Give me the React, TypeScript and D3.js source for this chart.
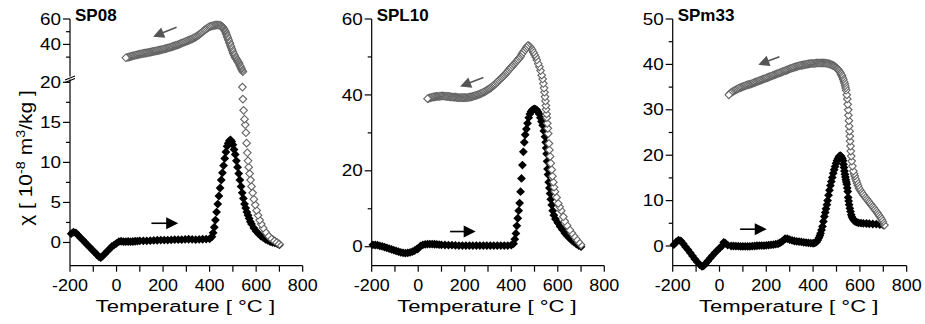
import React from 'react';
import * as d3 from 'd3';

type Pt = [number, number];

// ---------- DATA ----------
const xMajorTicks = [-200, 0, 200, 400, 600, 800];
const xMinorTicks = [-100, 100, 300, 500, 700];
const panelTitles = ['SP08', 'SPL10', 'SPm33'];

// SP08 heating (black filled)
const sp08Heat: Pt[] = [
  [-195, 1.1], [-185, 1.3], [-175, 1.2], [-165, 0.9], [-155, 0.6], [-145, 0.3], [-135, 0.0], [-125, -0.3],
  [-115, -0.6], [-105, -0.9], [-95, -1.2], [-85, -1.5], [-75, -1.8], [-68, -1.9], [-60, -1.7], [-50, -1.4],
  [-40, -1.1], [-30, -0.8], [-20, -0.5], [-10, -0.3], [0, -0.1], [10, 0.1], [20, 0.15], [30, 0.1], [40, 0.1],
  [50, 0.12], [60, 0.1], [70, 0.12], [80, 0.15], [90, 0.18], [100, 0.2], [115, 0.2], [130, 0.2], [145, 0.22],
  [160, 0.25], [175, 0.28], [190, 0.3], [205, 0.3], [220, 0.3], [235, 0.32], [250, 0.35], [265, 0.35],
  [280, 0.35], [295, 0.38], [310, 0.4], [325, 0.38], [340, 0.35], [355, 0.38], [370, 0.4], [385, 0.42],
  [400, 0.45], [410, 0.7], [415, 1.2], [420, 1.9], [425, 2.8], [430, 3.8], [435, 4.8], [440, 5.8], [445, 6.8],
  [450, 7.8], [455, 8.7], [460, 9.6], [465, 10.5], [470, 11.3], [475, 12.0], [480, 12.4], [485, 12.7],
  [490, 12.8], [495, 12.6], [500, 12.2], [505, 11.6], [510, 11.0], [515, 10.2], [520, 9.4], [525, 8.6],
  [530, 7.8], [535, 7.0], [540, 6.2], [545, 5.5], [550, 4.8], [555, 4.3], [560, 3.8], [565, 3.4], [570, 3.0],
  [575, 2.6], [580, 2.3], [590, 1.8], [600, 1.4], [610, 1.1], [620, 0.8], [630, 0.6], [640, 0.4], [650, 0.25],
  [660, 0.1], [670, 0.0], [680, -0.05], [690, -0.15], [700, -0.3],
];
// SP08 cooling (open grey), part plotted on the upper axis segment
const sp08CoolUpper: Pt[] = [
  [543, 18.5], [540, 19.5], [537, 20.7], [535, 21.5], [532, 22.7], [530, 23.5], [527, 24.7], [525, 25.5],
  [522, 26.4], [520, 27.0], [517, 27.9], [515, 28.5], [512, 29.4], [510, 30.0], [507, 31.0], [505, 31.8],
  [502, 33.0], [500, 34.0], [497, 35.5], [495, 36.5], [492, 38.0], [490, 39.0], [487, 40.5], [485, 41.5],
  [482, 43.0], [480, 44.0], [477, 45.5], [475, 46.5], [472, 48.0], [470, 49.0], [467, 50.2], [465, 51.0],
  [462, 51.9], [460, 52.5], [457, 53.3], [455, 53.8], [452, 54.3], [450, 54.6], [445, 55.0], [440, 55.2],
  [435, 55.3], [430, 55.3], [425, 55.2], [420, 55.0], [415, 54.8], [410, 54.5], [405, 54.2], [400, 54.0],
  [395, 53.4], [390, 52.8], [385, 52.1], [380, 51.5], [375, 50.8], [370, 50.0], [365, 49.2], [360, 48.5],
  [355, 47.7], [350, 47.0], [345, 46.4], [340, 45.8], [335, 45.3], [330, 44.9], [325, 44.4], [320, 44.0],
  [315, 43.6], [310, 43.2], [305, 42.8], [300, 42.5], [295, 42.1], [290, 41.7], [285, 41.3], [280, 41.0],
  [275, 40.6], [270, 40.2], [265, 39.8], [260, 39.5], [255, 39.2], [250, 38.9], [245, 38.6], [240, 38.3],
  [235, 38.0], [230, 37.7], [225, 37.4], [220, 37.2], [215, 36.9], [210, 36.7], [205, 36.4], [200, 36.2],
  [195, 35.9], [190, 35.7], [185, 35.5], [180, 35.3], [175, 35.1], [170, 34.9], [165, 34.7], [160, 34.5],
  [155, 34.3], [150, 34.1], [145, 33.9], [140, 33.8], [135, 33.6], [130, 33.4], [125, 33.2], [120, 33.1],
  [115, 32.9], [110, 32.7], [105, 32.5], [100, 32.4], [95, 32.1], [90, 31.9], [85, 31.7], [80, 31.5],
  [75, 31.2], [70, 31.0], [65, 30.7], [60, 30.5], [55, 30.2], [50, 30.0], [45, 29.7], [40, 29.5],
];
// SP08 cooling, part plotted on the lower axis segment
const sp08CoolLower: Pt[] = [
  [700, -0.2], [690, 0.0], [680, 0.2], [670, 0.4], [660, 0.6], [650, 0.9], [640, 1.3], [630, 1.8], [622, 2.3],
  [615, 2.8], [608, 3.4], [602, 4.0], [596, 4.7], [590, 5.4], [585, 6.2], [580, 7.0], [576, 7.8], [572, 8.6],
  [568, 9.4], [565, 10.2], [562, 11.2], [559, 12.4], [556, 13.7], [553, 14.7], [550, 15.4], [546, 16.5],
  [543, 17.9], [541, 19.4],
];

// SPL10 heating
const spl10Heat: Pt[] = [
  [-195, 0.5], [-185, 0.45], [-175, 0.4], [-165, 0.2], [-155, 0.1], [-145, -0.1], [-135, -0.3], [-125, -0.5],
  [-115, -0.7], [-105, -0.9], [-95, -1.1], [-85, -1.3], [-75, -1.5], [-65, -1.6], [-55, -1.7], [-45, -1.6],
  [-35, -1.5], [-25, -1.3], [-15, -1.0], [-5, -0.6], [0, -0.5], [10, 0.2], [20, 0.5], [30, 0.6], [40, 0.7],
  [50, 0.7], [60, 0.7], [70, 0.65], [80, 0.6], [90, 0.55], [100, 0.5], [115, 0.45], [130, 0.4], [145, 0.4],
  [160, 0.35], [175, 0.3], [190, 0.3], [205, 0.3], [220, 0.3], [235, 0.3], [250, 0.3], [265, 0.3], [280, 0.3],
  [295, 0.3], [310, 0.3], [325, 0.3], [340, 0.3], [355, 0.3], [370, 0.3], [385, 0.3], [400, 0.4], [410, 0.8],
  [415, 2.0], [420, 3.5], [424, 5.5], [428, 7.5], [432, 9.5], [436, 11.5], [440, 14.5], [444, 18.0],
  [448, 21.5], [452, 25.0], [456, 27.5], [460, 29.5], [465, 31.0], [470, 32.5], [475, 34.0], [480, 35.0],
  [485, 35.6], [490, 36.0], [495, 36.2], [500, 36.3], [505, 36.2], [510, 36.0], [515, 35.5], [520, 35.0],
  [525, 34.0], [530, 33.0], [535, 32.0], [540, 30.5], [545, 29.0], [548, 27.5], [550, 26.0], [552, 24.5],
  [554, 22.5], [556, 20.5], [558, 19.0], [561, 17.0], [564, 15.5], [567, 14.0], [570, 12.5], [574, 11.0],
  [578, 9.5], [583, 8.3], [590, 7.3], [600, 6.3], [610, 5.3], [620, 4.5], [630, 3.6], [640, 2.9], [650, 2.3],
  [660, 1.7], [670, 1.2], [680, 0.7], [690, 0.3], [700, 0.0],
];
// SPL10 cooling
const spl10Cool: Pt[] = [
  [700, 0.5], [690, 1.2], [680, 2.0], [670, 2.8], [660, 3.6], [652, 4.4], [640, 5.6], [630, 6.7], [624, 7.9],
  [615, 9.5], [608, 10.5], [602, 11.4], [595, 13.0], [588, 14.5], [584, 15.7], [581, 17.0], [577, 18.6],
  [574, 20.3], [570, 22.0], [567, 23.8], [564, 25.5], [562, 27.2], [559, 29.8], [557, 31.2], [555, 32.5],
  [553, 34.0], [552, 35.0], [550, 36.2], [549, 37.2], [547, 38.4], [545, 39.5], [543, 40.7], [541, 41.8],
  [538, 43.0], [535, 44.2], [531, 45.2], [526, 46.4], [521, 47.4], [516, 48.2], [510, 49.2], [505, 50.0],
  [500, 50.6], [495, 51.2], [490, 51.8], [485, 52.3], [480, 52.7], [475, 53.0], [470, 52.9], [465, 52.5],
  [460, 52.0], [455, 51.6], [450, 51.2], [445, 50.7], [440, 50.1], [435, 49.7], [430, 49.4], [425, 49.0],
  [420, 48.7], [415, 48.3], [410, 48.0], [405, 47.6], [400, 47.3], [395, 47.0], [390, 46.6], [385, 46.2],
  [380, 45.9], [375, 45.5], [370, 45.2], [365, 44.9], [360, 44.6], [355, 44.3], [350, 44.0], [345, 43.7],
  [340, 43.4], [335, 43.1], [330, 42.8], [325, 42.5], [320, 42.3], [315, 42.0], [310, 41.8], [305, 41.6],
  [300, 41.4], [295, 41.2], [290, 41.0], [285, 40.8], [280, 40.7], [275, 40.5], [270, 40.4], [265, 40.2],
  [260, 40.1], [255, 40.0], [250, 39.9], [245, 39.8], [240, 39.7], [235, 39.6], [230, 39.5], [225, 39.45],
  [220, 39.4], [215, 39.35], [210, 39.3], [205, 39.3], [200, 39.3], [195, 39.3], [190, 39.3], [185, 39.3],
  [180, 39.3], [175, 39.3], [170, 39.3], [165, 39.35], [160, 39.4], [155, 39.4], [150, 39.4], [145, 39.45],
  [140, 39.5], [135, 39.55], [130, 39.6], [125, 39.6], [120, 39.6], [115, 39.65], [110, 39.7], [105, 39.7],
  [100, 39.7], [95, 39.65], [90, 39.6], [85, 39.6], [80, 39.6], [75, 39.55], [70, 39.5], [65, 39.45],
  [60, 39.4], [55, 39.3], [50, 39.2], [45, 39.1], [40, 39.0],
];

// SPm33 heating
const spm33Heat: Pt[] = [
  [-195, 0.3], [-185, 0.9], [-175, 1.3], [-165, 1.1], [-155, 0.5], [-145, -0.2], [-135, -0.8], [-125, -1.5],
  [-115, -2.2], [-105, -2.9], [-95, -3.5], [-85, -4.1], [-75, -4.5], [-68, -4.4], [-60, -3.9], [-50, -3.3],
  [-40, -2.7], [-30, -2.1], [-20, -1.5], [-10, -1.0], [0, -0.5], [10, 0.0], [18, 0.8], [25, 0.6], [35, 0.2],
  [50, 0.0], [60, 0.0], [70, -0.05], [80, -0.05], [90, -0.1], [100, -0.1], [110, -0.1], [120, -0.1],
  [130, -0.1], [140, -0.05], [150, 0.0], [160, 0.05], [170, 0.1], [180, 0.1], [190, 0.1], [200, 0.15],
  [210, 0.2], [220, 0.25], [230, 0.3], [240, 0.4], [250, 0.5], [258, 0.7], [265, 0.9], [272, 1.2], [280, 1.6],
  [290, 1.6], [300, 1.4], [310, 1.25], [320, 1.1], [330, 1.0], [340, 0.95], [350, 0.9], [360, 0.8],
  [370, 0.75], [380, 0.7], [390, 0.65], [400, 0.6], [408, 0.7], [415, 0.9], [420, 1.3], [425, 1.8], [429, 2.3],
  [432, 2.8], [436, 3.5], [440, 4.3], [444, 5.4], [448, 6.5], [452, 7.4], [455, 8.2], [459, 9.1], [462, 10.0],
  [466, 11.2], [470, 12.3], [474, 13.3], [478, 14.2], [482, 15.1], [486, 16.0], [490, 16.8], [494, 17.5],
  [498, 18.2], [502, 18.8], [506, 19.2], [510, 19.6], [513, 19.8], [516, 19.9], [519, 19.8], [522, 19.5],
  [525, 19.2], [528, 18.8], [530, 18.0], [532, 17.3], [534, 16.5], [536, 15.8], [538, 15.2], [540, 14.6],
  [542, 14.1], [544, 13.6], [546, 12.8], [548, 12.0], [550, 10.7], [552, 9.9], [554, 9.1], [557, 8.3],
  [560, 7.6], [563, 6.9], [566, 6.4], [570, 6.0], [575, 5.6], [580, 5.4], [588, 5.2], [595, 5.1], [605, 5.05],
  [615, 5.0], [628, 4.95], [640, 4.9], [655, 4.85], [670, 4.8], [685, 4.7], [700, 4.6],
];
// SPm33 cooling
const spm33Cool: Pt[] = [
  [705, 4.6], [698, 5.3], [694, 5.7], [690, 6.1], [685, 6.5], [680, 6.9], [675, 7.25], [670, 7.6], [665, 7.95],
  [660, 8.3], [655, 8.65], [650, 9.0], [645, 9.3], [640, 9.6], [635, 9.95], [630, 10.3], [625, 10.6],
  [620, 10.9], [615, 11.25], [610, 11.6], [605, 12.0], [600, 12.4], [596, 12.8], [592, 13.3], [588, 13.8],
  [585, 14.3], [581, 14.8], [578, 15.4], [575, 15.9], [572, 16.5], [568, 17.6], [565, 18.7], [563, 19.8],
  [561, 20.9], [560, 22.0], [558, 23.1], [557, 24.2], [556, 25.3], [554, 26.4], [553, 27.6], [551, 28.8],
  [550, 30.0], [548, 31.2], [546, 32.4], [544, 33.3], [541, 34.3], [539, 34.8], [537, 35.3], [535, 35.8],
  [532, 36.2], [529, 36.7], [526, 37.1], [523, 37.5], [520, 37.8], [516, 38.2], [512, 38.5], [508, 38.8],
  [504, 39.0], [500, 39.2], [496, 39.4], [492, 39.55], [488, 39.7], [484, 39.8], [480, 39.9], [475, 40.0],
  [470, 40.1], [465, 40.15], [460, 40.2], [455, 40.25], [450, 40.3], [445, 40.3], [440, 40.3], [435, 40.3],
  [430, 40.3], [425, 40.3], [420, 40.3], [415, 40.3], [410, 40.25], [405, 40.2], [400, 40.2], [395, 40.2],
  [390, 40.2], [385, 40.15], [380, 40.1], [375, 40.05], [370, 40.0], [365, 39.95], [360, 39.9], [355, 39.85],
  [350, 39.8], [345, 39.75], [340, 39.7], [335, 39.6], [330, 39.5], [325, 39.45], [320, 39.4], [315, 39.3],
  [310, 39.2], [305, 39.1], [300, 39.0], [295, 38.9], [290, 38.8], [285, 38.7], [280, 38.6], [275, 38.5],
  [270, 38.4], [265, 38.3], [260, 38.2], [255, 38.1], [250, 38.0], [245, 37.9], [240, 37.8], [235, 37.7],
  [230, 37.6], [225, 37.5], [220, 37.4], [215, 37.3], [210, 37.2], [205, 37.1], [200, 37.0], [195, 36.9],
  [190, 36.8], [185, 36.7], [180, 36.6], [175, 36.5], [170, 36.4], [165, 36.3], [160, 36.2], [155, 36.1],
  [150, 36.0], [145, 35.9], [140, 35.8], [135, 35.7], [130, 35.6], [125, 35.55], [120, 35.5], [115, 35.4],
  [110, 35.3], [105, 35.2], [100, 35.1], [95, 35.0], [90, 34.9], [85, 34.8], [80, 34.7], [75, 34.55],
  [70, 34.4], [65, 34.25], [60, 34.1], [55, 33.95], [50, 33.8], [45, 33.6], [40, 33.3],
];

// arrows (data coordinates): [T0, v0, T1, v1]  head at T1,v1
const arrowsGrey: [number, number, number, number][] = [
  [258, 53.5, 157, 46.1],
  [280, 44.6, 180, 42.2],
  [256, 41.7, 166, 39.9],
];
const arrowsBlack: [number, number, number, number][] = [
  [150, 2.4, 265, 2.4],
  [137, 4.0, 247, 4.0],
  [88, 3.7, 202, 3.7],
];

// ---------- LAYOUT ----------
const FONT = '"Liberation Sans", Arial, Helvetica, sans-serif';
const GREY_STROKE = '#636363';
const AXIS_BOTTOM = 265.7;

type Segment = {
  domain: [number, number];
  range: [number, number];
  majors: number[];
  minors: number[];
};

type Series = { data: Pt[]; seg: number; kind: 'heat' | 'cool' };

type PanelSpec = {
  xRange: [number, number];
  segments: Segment[];
  series: Series[];
  arrowSeg: number;
  topY: number;
  breakY?: number;
};

const panels: PanelSpec[] = [
  {
    xRange: [70, 302.7],
    segments: [
      { domain: [-2.9, 20], range: [AXIS_BOTTOM, 82.3], majors: [0, 5, 10, 15, 20], minors: [2.5, 7.5, 12.5, 17.5] },
      { domain: [15, 60], range: [76.2, 19], majors: [40, 60], minors: [30, 50] },
    ],
    series: [
      { data: sp08Heat, seg: 0, kind: 'heat' },
      { data: sp08CoolLower, seg: 0, kind: 'cool' },
      { data: sp08CoolUpper, seg: 1, kind: 'cool' },
    ],
    arrowSeg: 1,
    topY: 19,
    breakY: 78.5,
  },
  {
    xRange: [371.7, 604.3],
    segments: [
      { domain: [-5, 60], range: [AXIS_BOTTOM, 19], majors: [0, 20, 40, 60], minors: [10, 30, 50] },
    ],
    series: [
      { data: spl10Heat, seg: 0, kind: 'heat' },
      { data: spl10Cool, seg: 0, kind: 'cool' },
    ],
    arrowSeg: 0,
    topY: 19,
  },
  {
    xRange: [672.7, 906.7],
    segments: [
      { domain: [-4.34, 50], range: [AXIS_BOTTOM, 19], majors: [0, 10, 20, 30, 40, 50], minors: [5, 15, 25, 35, 45] },
    ],
    series: [
      { data: spm33Heat, seg: 0, kind: 'heat' },
      { data: spm33Cool, seg: 0, kind: 'cool' },
    ],
    arrowSeg: 0,
    topY: 19,
  },
];

const diamondPath = (r: number) => `M0,${-r}L${r},0L0,${r}L${-r},0Z`;

function Arrow({ x0, y0, x1, y1, color, head, half, sw }: any) {
  const ang = Math.atan2(y1 - y0, x1 - x0);
  const bx = x1 - head * Math.cos(ang);
  const by = y1 - head * Math.sin(ang);
  const px = -Math.sin(ang) * half;
  const py = Math.cos(ang) * half;
  return (
    <g>
      <line x1={x0} y1={y0} x2={bx + Math.cos(ang) * 2} y2={by + Math.sin(ang) * 2} stroke={color} strokeWidth={sw} />
      <path d={`M${x1},${y1}L${bx + px},${by + py}L${bx - px},${by - py}Z`} fill={color} />
    </g>
  );
}

function Panel({ spec, idx }: { spec: PanelSpec; idx: number }) {
  const x = d3.scaleLinear().domain([-200, 800]).range(spec.xRange);
  const ys = spec.segments.map((s) => d3.scaleLinear().domain(s.domain).range(s.range));
  const axisX = spec.xRange[0];
  const heatD = diamondPath(4.4);
  const coolD = diamondPath(3.8);
  const ya = ys[spec.arrowSeg];
  const yb = ys[0];
  const ga = arrowsGrey[idx];
  const ba = arrowsBlack[idx];
  return (
    <g>
      {spec.series
        .filter((s) => s.kind === 'heat')
        .map((s, i) => (
          <g key={'h' + i}>
            {s.data.map((p, j) => (
              <path key={j} d={heatD} transform={`translate(${x(p[0])},${ys[s.seg](p[1])})`} fill="#000" />
            ))}
          </g>
        ))}
      {spec.series
        .filter((s) => s.kind === 'cool')
        .map((s, i) => (
          <g key={'c' + i}>
            {s.data.map((p, j) => (
              <path
                key={j}
                d={coolD}
                transform={`translate(${x(p[0])},${ys[s.seg](p[1])})`}
                fill="#fff"
                stroke={GREY_STROKE}
                strokeWidth={1.1}
              />
            ))}
          </g>
        ))}

      {/* axes */}
      <line x1={axisX} x2={axisX} y1={spec.topY} y2={AXIS_BOTTOM} stroke="#000" strokeWidth={1.2} />
      <line x1={axisX} x2={spec.xRange[1]} y1={AXIS_BOTTOM} y2={AXIS_BOTTOM} stroke="#000" strokeWidth={1.2} />
      {xMajorTicks.concat(xMinorTicks).map((t) => (
        <line key={'xt' + t} x1={x(t)} x2={x(t)} y1={AXIS_BOTTOM} y2={AXIS_BOTTOM + 6} stroke="#000" strokeWidth={1.2} />
      ))}
      {xMajorTicks.map((t) => (
        <text
          key={'xl' + t}
          transform={`translate(${x(t)},290.5) scale(1.12,1)`}
          textAnchor="middle"
          fontFamily={FONT}
          fontSize={16}
        >
          {t}
        </text>
      ))}
      <text
        transform={`translate(${(spec.xRange[0] + spec.xRange[1]) / 2 - 1},311.5) scale(1.3,1)`}
        textAnchor="middle"
        fontFamily={FONT}
        fontSize={17}
      >
        Temperature [ °C ]
      </text>
      {spec.segments.map((s, si) => (
        <g key={'seg' + si}>
          {s.majors.map((t) => (
            <g key={'ym' + t}>
              <line x1={axisX - 7} x2={axisX} y1={ys[si](t)} y2={ys[si](t)} stroke="#000" strokeWidth={1.2} />
              <text
                transform={`translate(${axisX - 9},${ys[si](t) + 5.6}) scale(1.18,1)`}
                textAnchor="end"
                fontFamily={FONT}
                fontSize={16}
              >
                {t}
              </text>
            </g>
          ))}
          {s.minors.map((t) => (
            <line key={'yn' + t} x1={axisX - 4} x2={axisX} y1={ys[si](t)} y2={ys[si](t)} stroke="#000" strokeWidth={1.2} />
          ))}
        </g>
      ))}
      {spec.breakY !== undefined && (
        <g>
          <rect x={axisX - 2} y={spec.breakY - 2} width={4} height={3} fill="#fff" />
          <line x1={axisX - 5} y1={spec.breakY + 1.5} x2={axisX + 5} y2={spec.breakY - 2.5} stroke="#000" strokeWidth={1.1} />
          <line x1={axisX - 5} y1={spec.breakY + 4} x2={axisX + 5} y2={spec.breakY} stroke="#000" strokeWidth={1.1} />
        </g>
      )}
      <text x={axisX + 5} y={21} fontFamily={FONT} fontWeight="bold" fontSize={17}>
        {panelTitles[idx]}
      </text>

      {/* arrows */}
      <Arrow x0={x(ga[0])} y0={ya(ga[1])} x1={x(ga[2])} y1={ya(ga[3])} color="#555" head={11} half={5.5} sw={1.6} />
      <Arrow x0={x(ba[0])} y0={yb(ba[1])} x1={x(ba[2])} y1={yb(ba[3])} color="#000" head={12} half={6} sw={1.6} />
    </g>
  );
}

export default function App() {
  return (
    <svg
      width={925}
      height={324}
      viewBox="0 0 925 324"
      style={{ position: 'absolute', left: 0, top: 0, background: '#fff' }}
    >
      <rect width={925} height={324} fill="#fff" />
      {panels.map((p, i) => (
        <Panel key={i} spec={p} idx={i} />
      ))}
      <text
        transform="translate(32,158) rotate(-90) scale(1.2,1)"
        textAnchor="middle"
        fontFamily={FONT}
        fontSize={17.5}
      >
        χ [ 10<tspan dy={-7} fontSize={12}>-8</tspan>
        <tspan dy={7}> m</tspan>
        <tspan dy={-7} fontSize={12}>3</tspan>
        <tspan dy={7}>/kg ]</tspan>
      </text>
    </svg>
  );
}
